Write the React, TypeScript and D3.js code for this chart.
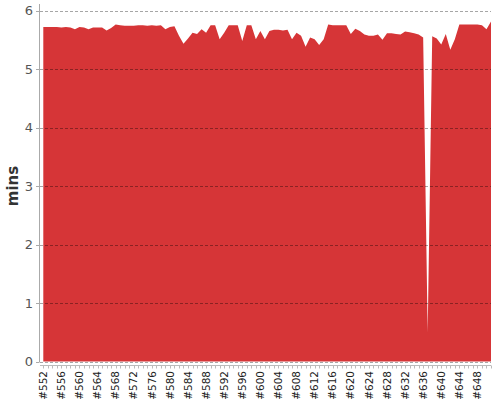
import React from "react";
import * as d3 from "d3";

const firstBuild = 552;
const buildTimes: number[] = [
  5.72, 5.72, 5.72, 5.72, 5.71, 5.72, 5.71, 5.68, 5.72, 5.71,
  5.68, 5.71, 5.71, 5.71, 5.66, 5.70, 5.76, 5.75, 5.74, 5.74,
  5.74, 5.75, 5.75, 5.74, 5.75, 5.74, 5.75, 5.68, 5.72, 5.73,
  5.57, 5.43, 5.52, 5.62, 5.60, 5.68, 5.62, 5.75, 5.75, 5.51,
  5.62, 5.75, 5.75, 5.75, 5.48, 5.75, 5.75, 5.51, 5.65, 5.51,
  5.65, 5.67, 5.67, 5.66, 5.67, 5.51, 5.62, 5.57, 5.38, 5.54,
  5.51, 5.41, 5.51, 5.76, 5.75, 5.75, 5.75, 5.75, 5.60, 5.69,
  5.65, 5.59, 5.57, 5.57, 5.59, 5.50, 5.61, 5.61, 5.60, 5.59,
  5.64, 5.63, 5.61, 5.59, 5.54, 0.50, 5.56, 5.52, 5.42, 5.60,
  5.33, 5.51, 5.76, 5.76, 5.76, 5.76, 5.76, 5.75, 5.68, 5.81,
];
const builds: number[] = buildTimes.map((_, i) => firstBuild + i);
const labelBuilds: number[] = builds.filter((b) => (b - firstBuild) % 4 === 0);
const yTicks: number[] = [0, 1, 2, 3, 4, 5, 6];
const yLabel = "mins";

export default function App() {
  const W = 500, H = 400;
  const x = d3.scaleLinear().domain([builds[0], builds[builds.length - 1]]).range([43.3, 491]);
  const y = d3.scaleLinear().domain([0, 6]).range([361.5, 10.5]);
  const area = d3
    .area<number>()
    .x((_, i) => x(builds[i]))
    .y0(y(0))
    .y1((d) => y(d))
    .curve(d3.curveLinear);

  return (
    <svg
      width={W}
      height={H}
      style={{ position: "absolute", left: 0, top: 0, background: "#fff" }}
      fontFamily="DejaVu Sans, Verdana, sans-serif"
    >
      <path d={area(buildTimes) || ""} fill="#d63537" />
      {yTicks.map((t) => (
        <line
          key={"g" + t}
          x1={40}
          x2={491}
          y1={Math.round(y(t)) + 0.5}
          y2={Math.round(y(t)) + 0.5}
          stroke="#000"
          strokeOpacity={0.35}
          strokeDasharray="3,2"
          strokeWidth={1}
        />
      ))}
      {/* y axis */}
      <line x1={39.5} x2={39.5} y1={4} y2={362} stroke="#aaa" />
      {yTicks.map((t) => (
        <g key={"yt" + t}>
          <line x1={36} x2={39.5} y1={Math.round(y(t)) + 0.5} y2={Math.round(y(t)) + 0.5} stroke="#aaa" />
          <text
            x={33}
            y={y(t)}
            dy="0.35em"
            textAnchor="end"
            fontSize={13}
            fill="#555"
          >
            {t}
          </text>
        </g>
      ))}
      <text
        transform={`translate(17.5, ${(y(0) + y(6)) / 2}) rotate(-90)`}
        textAnchor="middle"
        fontSize={15}
        fontWeight="bold"
        fill="#333"
      >
        {yLabel}
      </text>
      {/* x axis */}
      <line x1={40} x2={491} y1={365.5} y2={365.5} stroke="#bbb" />
      {builds.map((b) => (
        <line
          key={"xt" + b}
          x1={Math.round(x(b)) + 0.5}
          x2={Math.round(x(b)) + 0.5}
          y1={365.5}
          y2={368.5}
          stroke="#bbb"
        />
      ))}
      {labelBuilds.map((b) => (
        <text
          key={"xl" + b}
          transform={`translate(${x(b)}, 371) rotate(-90)`}
          dy="0.35em"
          textAnchor="end"
          fontSize={10.5}
          fill="#222"
        >
          {"#" + b}
        </text>
      ))}
    </svg>
  );
}
